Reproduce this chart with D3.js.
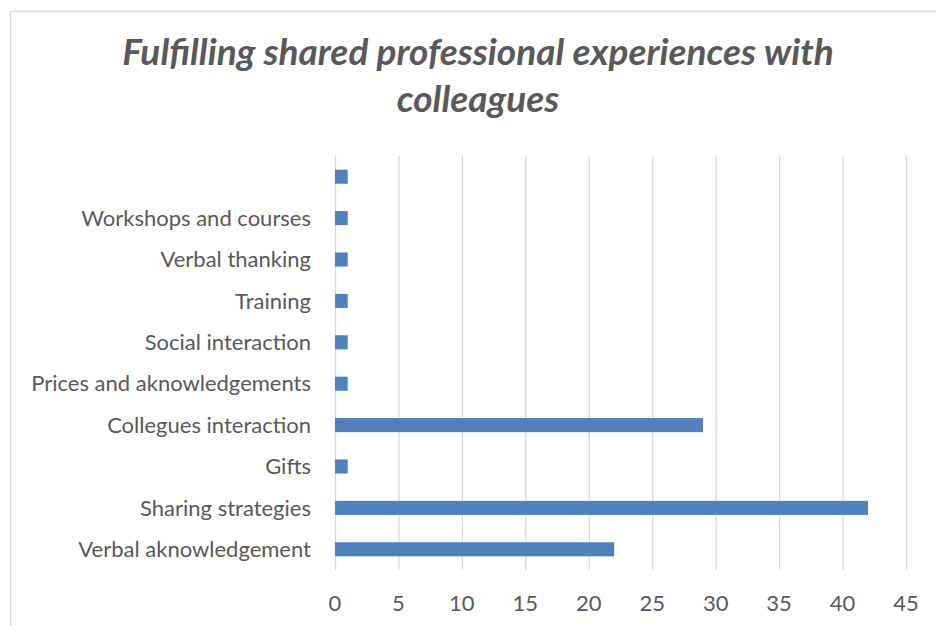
<!DOCTYPE html>
<html><head><meta charset="utf-8">
<script src="https://cdn.jsdelivr.net/npm/d3@7"></script>
<style>body{margin:0;background:#fff;} svg{display:block;}</style>
</head><body>
<svg id="c" width="936" height="626"></svg>
<script>
const categories = ["Verbal aknowledgement","Sharing strategies","Gifts","Collegues interaction","Prices and aknowledgements","Social interaction","Training","Verbal thanking","Workshops and courses",""];
const values = [22,42,1,29,1,1,1,1,1,1];
const xTicks = [0,5,10,15,20,25,30,35,40,45];
const titleLines = ["Fulfilling shared professional experiences with","colleagues"];

const svg = d3.select("#c");
const font = "Lato, 'Open Sans', sans-serif";
svg.append("rect").attr("x",10.5).attr("y",11.5).attr("width",940).attr("height",640)
  .attr("fill","#fff").attr("stroke","#d9d9d9").attr("stroke-width",1.5);

const m = {left:335, right:906, top:156, bottom:570};
const x = d3.scaleLinear().domain([0,45]).range([m.left,m.right]);
const y = d3.scaleBand().domain(categories.map((d,i)=>i)).range([m.bottom,m.top]).paddingInner(0.66).paddingOuter(0.33);

// grid
svg.append("g").selectAll("line").data(xTicks).join("line")
  .attr("x1",d=>x(d)+0.5).attr("x2",d=>x(d)+0.5).attr("y1",m.top).attr("y2",m.bottom)
  .attr("stroke","#d9d9d9").attr("stroke-width",1.3);

// bars
svg.append("g").selectAll("rect").data(values).join("rect")
  .attr("x",x(0)).attr("y",(d,i)=>y(i)).attr("width",d=>x(d)-x(0)).attr("height",y.bandwidth())
  .attr("fill","#4f81bd");

// category labels
svg.append("g").selectAll("text").data(categories).join("text")
  .attr("x",311).attr("y",(d,i)=>y(i)+y.bandwidth()/2).attr("dy","0.35em")
  .attr("text-anchor","end").attr("font-family",font).attr("font-size",22).attr("fill","#595959")
  .text(d=>d);

// x tick labels
svg.append("g").selectAll("text").data(xTicks).join("text")
  .attr("x",d=>x(d)).attr("y",603).attr("dy","0.35em")
  .attr("text-anchor","middle").attr("font-family",font).attr("font-size",22).attr("fill","#595959")
  .text(d=>d);

// title
svg.append("g").selectAll("text").data(titleLines).join("text")
  .attr("x",478).attr("y",(d,i)=>65+i*47)
  .attr("text-anchor","middle").attr("font-family",font).attr("font-size",37)
  .attr("font-weight","bold").attr("font-style","italic").attr("fill","#595959")
  .text(d=>d);
</script>
</body></html>
